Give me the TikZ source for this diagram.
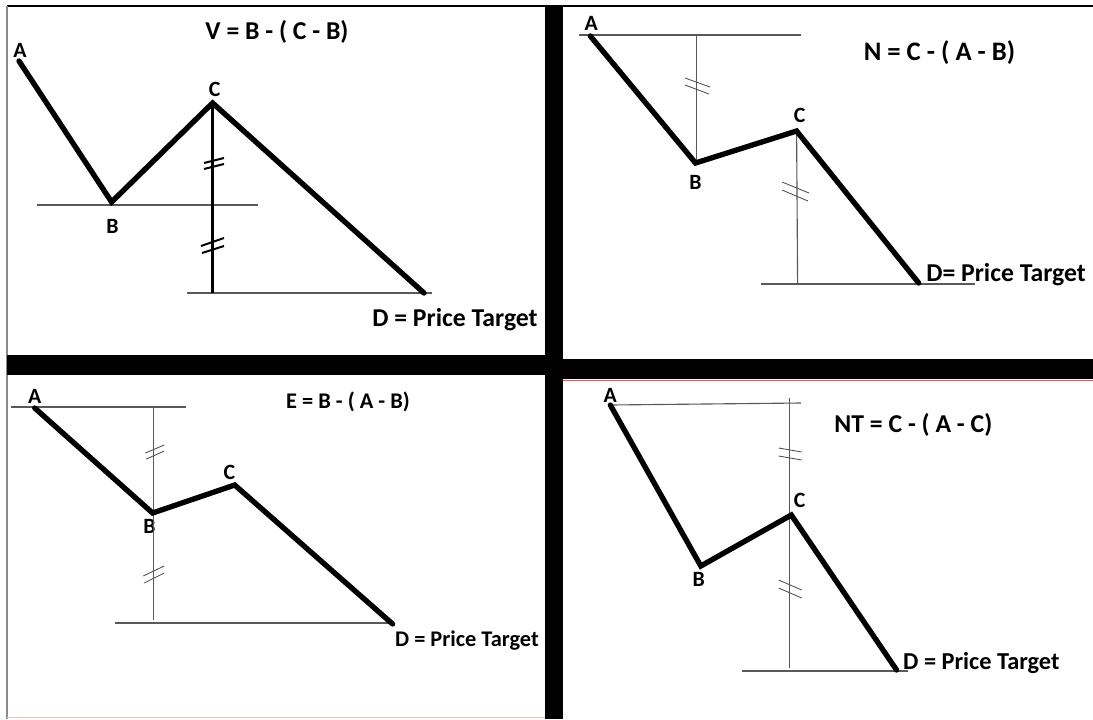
\documentclass[tikz,border=0pt]{standalone}
\usepackage{fontspec}
\setmainfont{Carlito}
\usepackage{tikz}

\begin{document}
\begin{tikzpicture}
	[
	x=0.025cm, y=-0.025cm,
	wave/.style={
		line width=3.8pt,
		line join=miter,
		line cap=round
	},
	guide/.style={
		line width=0.8pt,
		draw=black!65
	},
	tick/.style={
		line width=0.6pt,
		draw=black!70
	},
	bar/.style={
		fill=black
	},
	lbl/.style={
		font=\bfseries\fontsize{15.5}{17}\selectfont,
		inner sep=0pt
	},
	formula/.style={
		font=\bfseries\fontsize{18.3}{21}\selectfont,
		inner sep=0pt
	},
	small formula/.style={
		formula,
		font=\bfseries\fontsize{15.9}{19}\selectfont
	}
	]
	
	\useasboundingbox (0,0) rectangle (1093,719);
	\fill[white] (0,0) rectangle (1093,719);
	
	% Frame and separators
	\draw[line width=1.1pt] (7,6) -- (1093,6);
	\draw[line width=0.9pt, draw=black!45] (7,6) -- (7,719);
	\fill[bar] (545,6) rectangle (563,719);
	\fill[bar] (7,355) rectangle (545,375);
	\fill[bar] (563,359) rectangle (1093,379);
	\draw[line width=0.9pt, draw=red!70] (563,380.5) -- (1093,380.5);
	\draw[line width=0.8pt, draw=red!25] (7,717.5) -- (545,717.5);
	
	% V pattern
	\coordinate (v_a) at (19,61);
	\coordinate (v_b) at (111.6,202);
	\coordinate (v_c) at (212.6,103);
	\coordinate (v_d) at (424,293);
	\coordinate (v_foot) at (212.6,293);
	\coordinate (v_bl) at (37,205);
	\coordinate (v_br) at (258,205);
	\coordinate (v_dl) at (187,293);
	\coordinate (v_dr) at (431.6,293);
	
	\node[formula] (v_title) at (277,32) {V = B - ( C - B)};
	\node[lbl] (v_la) at (20,50) {A};
	\node[lbl] (v_lb) at (112.6,226) {B};
	\node[lbl] (v_lc) at (214.7,89) {C};
	\node[formula] (v_ld) at (455,320) {D = Price Target};
	
	\draw[guide] (v_bl) -- (v_br);
	\draw[guide] (v_dl) -- (v_dr);
	\draw[line width=2pt] (v_c) -- (v_foot);
	\draw[wave] (v_a) -- (v_b) -- (v_c) -- (v_d);
	\draw[line width=1.4pt] (204,163) -- ++(20,-5) (204,169) -- ++(20,-5);
	\draw[line width=1.4pt] (201,246) -- ++(23,-8) (202,253) -- ++(22,-7);
	
	% N pattern
	\coordinate (n_a) at (590.3,36);
	\coordinate (n_b) at (695.5,163);
	\coordinate (n_c) at (796.6,131);
	\coordinate (n_d) at (918.7,283);
	\coordinate (n_al) at (578.7,35);
	\coordinate (n_ar) at (800.8,35);
	\coordinate (n_top) at (696.6,35);
	\coordinate (n_low) at (696.6,162);
	\coordinate (n_foot) at (797.6,283);
	\coordinate (n_dl) at (760.8,284);
	\coordinate (n_dr) at (974.5,284);
	
	\node[formula, font=\bfseries\fontsize{19}{22}\selectfont] (n_title) at (939.5,53) {N = C - ( A - B)};
	\node[lbl] (n_la) at (591.3,23) {A};
	\node[lbl] (n_lb) at (695.5,182) {B};
	\node[lbl] (n_lc) at (799.7,115) {C};
	\node[formula, anchor=west] (n_ld) at (926,275) {D= Price Target};
	
	\draw[guide] (n_al) -- (n_ar);
	\draw[guide] (n_top) -- (n_low);
	\draw[guide] (n_c) -- (n_foot);
	\draw[guide] (n_dl) -- (n_dr);
	\draw[wave] (n_a) -- (n_b) -- (n_c) -- (n_d);
	\draw[tick] (685,78) -- ++(25,9) (685,85) -- ++(24,9);
	\draw[tick] (782,182) -- ++(27,11) (782,190) -- ++(26,11);
	
	% E pattern
	\coordinate (e_a) at (34.7,408);
	\coordinate (e_b) at (152.6,513);
	\coordinate (e_c) at (234.7,485);
	\coordinate (e_d) at (392.6,624);
	\coordinate (e_al) at (10.5,407);
	\coordinate (e_ar) at (186.3,407);
	\coordinate (e_top) at (153.7,407);
	\coordinate (e_foot) at (153.7,620);
	\coordinate (e_dl) at (114.7,623);
	\coordinate (e_dr) at (392.6,623);
	
	\node[small formula] (e_title) at (348,402) {E = B - ( A - B)};
	\node[lbl] (e_la) at (34.7,396) {A};
	\node[lbl] (e_lb) at (149.5,526) {B};
	\node[lbl] (e_lc) at (229.5,472) {C};
	\node[small formula] (e_ld) at (467,641) {D = Price Target};
	
	\draw[guide] (e_al) -- (e_ar);
	\draw[guide] (e_top) -- (e_foot);
	\draw[guide] (e_dl) -- (e_dr);
	\draw[wave] (e_a) -- (e_b) -- (e_c) -- (e_d);
	\draw[tick] (145.3,453) -- ++(19,-8) (146.3,459) -- ++(18,-8);
	\draw[tick] (143.2,576) -- ++(21,-10) (144.2,583) -- ++(20,-10);
	
	% NT pattern
	\coordinate (t_a) at (610.3,405);
	\coordinate (t_b) at (700.8,566);
	\coordinate (t_c) at (791.3,515);
	\coordinate (t_d) at (896.6,670);
	\coordinate (t_ar) at (800.8,403);
	\coordinate (t_top) at (789.2,398);
	\coordinate (t_foot) at (789.2,668);
	\coordinate (t_dl) at (741.8,671);
	\coordinate (t_dr) at (908.2,671);
	
	\node[formula] (t_title) at (913.4,425) {NT = C - ( A - C)};
	\node[lbl] (t_la) at (610.3,395) {A};
	\node[lbl] (t_lb) at (698.7,579) {B};
	\node[lbl] (t_lc) at (799.7,500) {C};
	\node[formula, anchor=west, font=\bfseries\fontsize{17.3}{20}\selectfont] (t_ld) at (902.9,663) {D = Price Target};
	
	\draw[guide] (t_a) -- (t_ar);
	\draw[guide] (t_top) -- (t_foot);
	\draw[guide] (t_dl) -- (t_dr);
	\draw[wave] (t_a) -- (t_b) -- (t_c) -- (t_d);
	\draw[tick] (778.7,448) -- ++(23,4) (778.7,456) -- ++(23,4);
	\draw[tick] (778.7,580) -- ++(23,10) (778.7,588) -- ++(23,10);
	
\end{tikzpicture}
\end{document}
